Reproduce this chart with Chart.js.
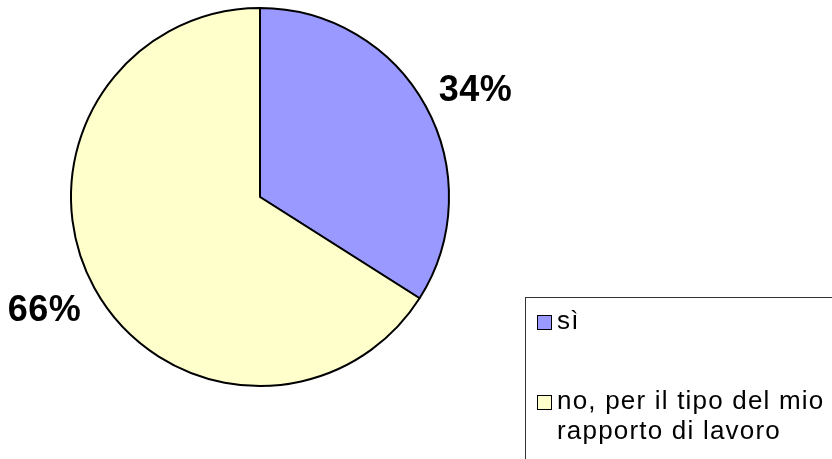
<!DOCTYPE html>
<html>
<head>
<meta charset="utf-8">
<script src="https://cdn.jsdelivr.net/npm/chart.js@4"></script>
<style>
  html, body { margin: 0; padding: 0; background: #ffffff; }
  #wrap { width: 832px; height: 459px; position: relative; }
</style>
</head>
<body>
<div id="wrap"><canvas id="c" width="832" height="459"></canvas></div>
<script>
// Risposte (percentuali)
const categories = ['sì', 'no, per il tipo del mio rapporto di lavoro'];
const values = [34, 66];
const colors = ['#9999FF', '#FFFFCC'];

// Percentage labels placed outside each slice, along its mid-angle
const outsideLabels = {
  id: 'outsideLabels',
  afterDatasetsDraw(chart) {
    const ctx = chart.ctx;
    const meta = chart.getDatasetMeta(0);
    const data = chart.data.datasets[0].data;
    const total = data.reduce((a, b) => a + b, 0);
    ctx.save();
    ctx.font = 'bold 36px "Liberation Sans", Arial, sans-serif';
    ctx.letterSpacing = '0.5px';
    ctx.fillStyle = '#000000';
    ctx.textAlign = 'center';
    ctx.textBaseline = 'middle';
    meta.data.forEach((arc, i) => {
      const p = arc.getProps(['x', 'y', 'startAngle', 'endAngle', 'outerRadius'], true);
      const mid = (p.startAngle + p.endAngle) / 2 + 0.03;
      const r = p.outerRadius + 53;
      const lx = p.x + Math.cos(mid) * r;
      const ly = p.y + Math.sin(mid) * r + 4;
      ctx.fillText(Math.round(data[i] / total * 100) + '%', lx, ly);
    });
    ctx.restore();
  }
};

// Boxed legend at the lower right, wrapping long entries
const boxLegend = {
  id: 'boxLegend',
  afterDraw(chart) {
    const ctx = chart.ctx;
    const ds = chart.data.datasets[0];
    const boxX = 525, boxY = 297;
    ctx.save();
    ctx.fillStyle = '#ffffff';
    ctx.strokeStyle = '#333333';
    ctx.lineWidth = 1;
    ctx.fillRect(boxX, boxY, 832 - boxX + 10, 459 - boxY + 10);
    ctx.strokeRect(boxX + 0.5, boxY + 0.5, 832 - boxX + 10, 459 - boxY + 10);

    ctx.font = '26px "Liberation Sans", Arial, sans-serif';
    ctx.letterSpacing = '1.2px';
    ctx.textBaseline = 'middle';
    ctx.textAlign = 'left';
    const textX = 557, maxW = 832 - textX;
    const itemY = [322, 402];
    const lineH = 30;
    chart.data.labels.forEach((label, i) => {
      const cy = itemY[i];
      ctx.fillStyle = ds.backgroundColor[i];
      ctx.fillRect(537, cy - 7, 15, 15);
      ctx.strokeStyle = '#000000';
      ctx.strokeRect(537.5, cy - 6.5, 14, 14);
      // wrap words to the available width
      const words = label.split(' ');
      const lines = [];
      let cur = '';
      words.forEach(w => {
        const test = cur ? cur + ' ' + w : w;
        if (ctx.measureText(test).width > maxW && cur) {
          lines.push(cur);
          cur = w;
        } else {
          cur = test;
        }
      });
      if (cur) lines.push(cur);
      ctx.fillStyle = '#000000';
      lines.forEach((ln, k) => ctx.fillText(ln, textX, cy + k * lineH));
    });
    ctx.restore();
  }
};

new Chart(document.getElementById('c'), {
  type: 'pie',
  data: {
    labels: categories,
    datasets: [{
      data: values,
      backgroundColor: colors,
      borderColor: '#000000',
      borderWidth: 2,
      hoverOffset: 0,
      offset: 0
    }]
  },
  options: {
    responsive: false,
    animation: false,
    events: [],
    layout: { padding: { left: 70, right: 382, top: 7, bottom: 72 } },
    plugins: {
      legend: { display: false },
      tooltip: { enabled: false }
    }
  },
  plugins: [outsideLabels, boxLegend]
});
</script>
</body>
</html>
